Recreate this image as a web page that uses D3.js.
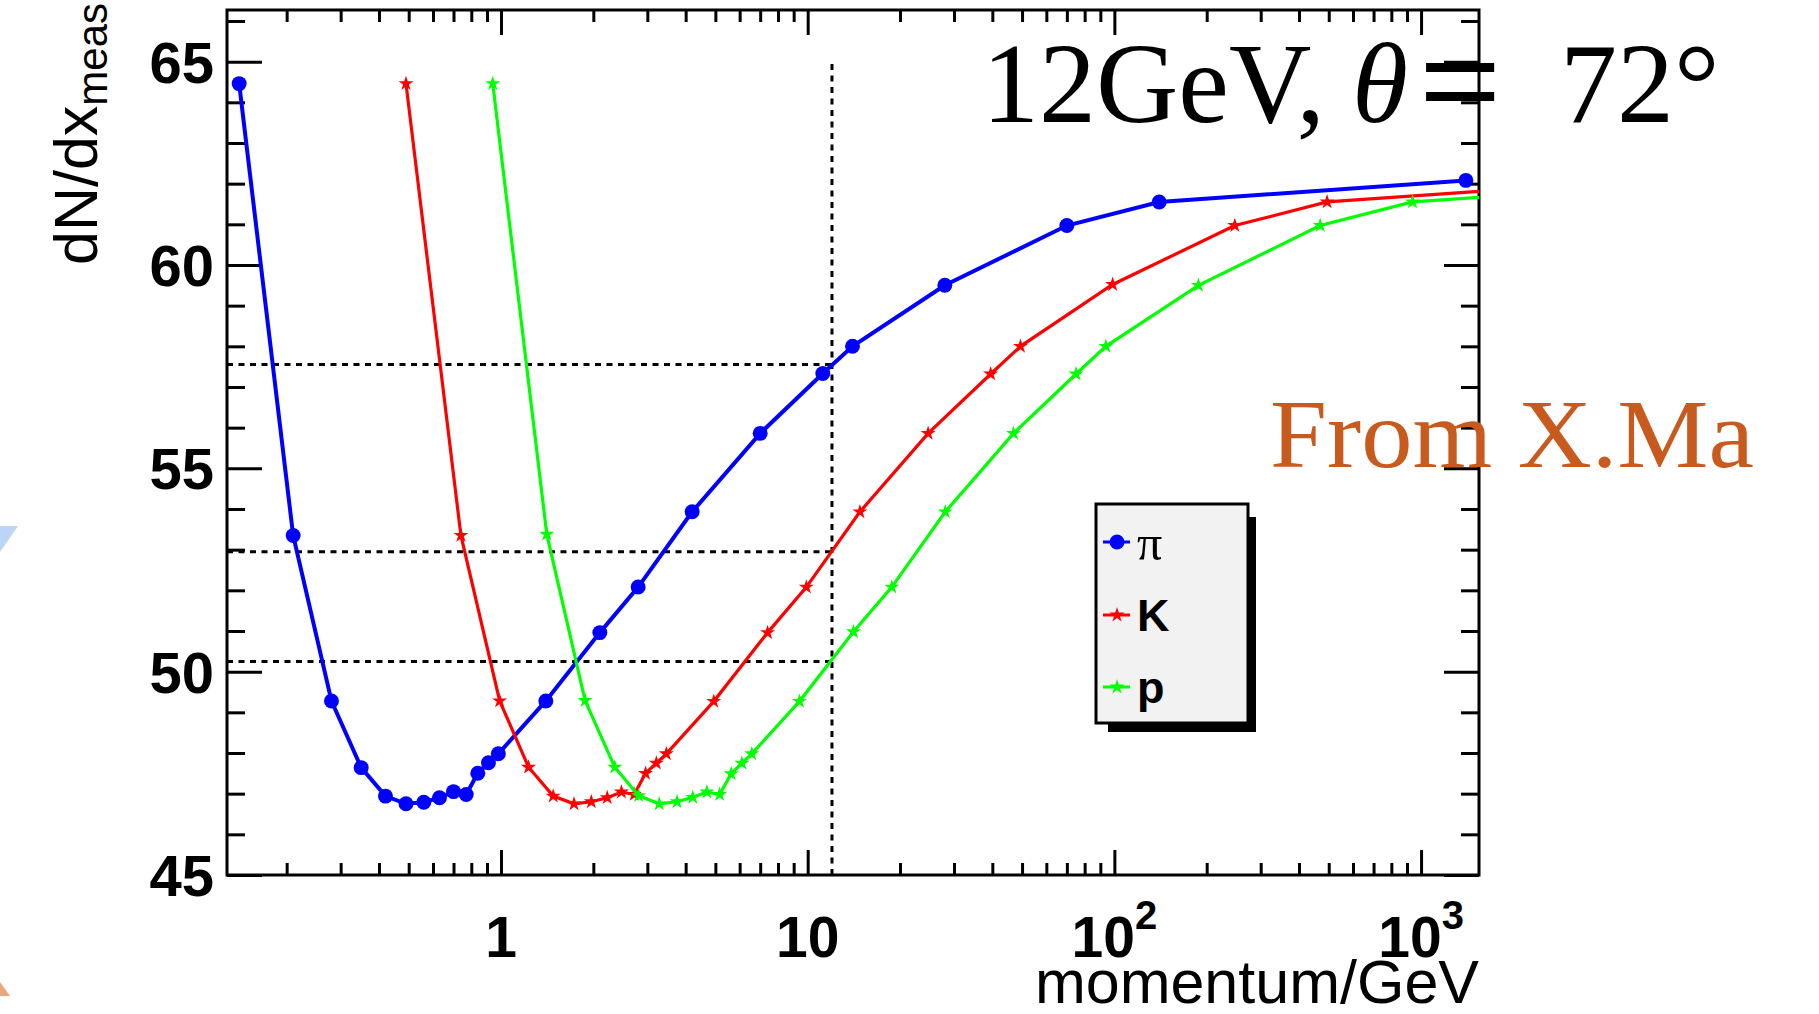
<!DOCTYPE html>
<html>
<head>
<meta charset="utf-8">
<script src="https://cdnjs.cloudflare.com/ajax/libs/d3/7.8.5/d3.min.js"></script>
<style>
  body { margin: 0; background: #fff; }
  svg { display: block; }
</style>
</head>
<body>
<svg id="chart" width="1819" height="1014"></svg>
<script>
// momentum (GeV) and dN/dx
var pionP = [0.14, 0.21, 0.28, 0.35, 0.42, 0.49, 0.56, 0.63, 0.70, 0.77, 0.84, 0.91, 0.98,
             1.4, 2.1, 2.8, 4.2, 7.0, 11.2, 14.0, 28, 70, 140, 1400];
var pionY = [64.46, 53.35, 49.28, 47.64, 46.94, 46.75, 46.79, 46.90, 47.05, 46.98, 47.50, 47.76, 47.98,
             49.28, 50.96, 52.08, 53.93, 55.86, 57.33, 58.0, 59.50, 60.97, 61.55, 62.08];

var kaonP = [0.49, 0.74, 0.99, 1.23, 1.48, 1.73, 1.97, 2.22, 2.47, 2.72, 2.96, 3.21, 3.46,
             4.94, 7.4, 9.9, 14.8, 24.7, 39.5, 49.4, 98.7, 247, 494, 4940];
var kaonY = [64.46, 53.35, 49.28, 47.65, 46.94, 46.75, 46.80, 46.90, 47.04, 46.98, 47.50, 47.75, 47.98,
             49.27, 50.96, 52.08, 53.93, 55.86, 57.32, 58.0, 59.52, 60.97, 61.55, 62.08];

var protonP = [0.94, 1.41, 1.88, 2.35, 2.81, 3.28, 3.75, 4.22, 4.69, 5.16, 5.63, 6.10, 6.57,
               9.4, 14.1, 18.8, 28.1, 46.9, 75, 93.8, 188, 469, 938, 9380];
var protonY = [64.46, 53.38, 49.29, 47.65, 46.95, 46.75, 46.80, 46.91, 47.04, 46.98, 47.49, 47.75, 47.98,
               49.27, 50.98, 52.08, 53.93, 55.86, 57.32, 58.0, 59.50, 60.97, 61.55, 62.08];

var seriesNames = ["π", "K", "p"];
var seriesColors = ["#0000ff", "#ff0000", "#00ff00"];

var yMajor = [45, 50, 55, 60, 65];
var xMajor = [1, 10, 100, 1000];
var xLabels = ["1", "10", "10^2", "10^3"];

// dotted guide lines at 12 GeV
var refP = 12;
var refLevels = [57.55, 52.95, 50.25];
var refTop = 65;

var padL = 227, padR = 1479, padT = 10, padB = 875;

var svg = d3.select("#chart");

var x = d3.scaleLog().domain([0.1278, 1545]).range([padL, padR]);
var y = d3.scaleLinear().domain([45, 66.27]).range([padB, padT]);

var xMinor = x.ticks().filter(function(d) { return xMajor.indexOf(d) < 0; });
var yMinor = y.ticks(21).filter(function(d) { return yMajor.indexOf(d) < 0; });

// background slide remnants at the left edge
svg.append("path").attr("d", "M0,526L18,526L0,552Z").attr("fill", "#bcd5f5");
svg.append("path").attr("d", "M0,982L10,996L0,996Z").attr("fill", "#eaa57a");

svg.append("defs").append("clipPath").attr("id", "plotclip")
  .append("rect").attr("x", padL).attr("y", padT)
  .attr("width", padR - padL).attr("height", padB - padT);

function ticks(axis, tr, vals, len) {
  var g = svg.append("g").attr("transform", tr)
    .call(axis.tickValues(vals).tickSizeInner(-len).tickSizeOuter(0).tickFormat(""));
  g.select(".domain").remove();
  g.selectAll("line").attr("stroke", "#000").attr("stroke-width", 3);
}

ticks(d3.axisBottom(x), "translate(0," + padB + ")", xMinor, 12);
ticks(d3.axisBottom(x), "translate(0," + padB + ")", xMajor, 25);
ticks(d3.axisTop(x), "translate(0," + padT + ")", xMinor, 12);
ticks(d3.axisTop(x), "translate(0," + padT + ")", xMajor, 25);
ticks(d3.axisLeft(y), "translate(" + padL + ",0)", yMinor, 18);
ticks(d3.axisLeft(y), "translate(" + padL + ",0)", yMajor, 35);
ticks(d3.axisRight(y), "translate(" + padR + ",0)", yMinor, 18);
ticks(d3.axisRight(y), "translate(" + padR + ",0)", yMajor, 35);

svg.append("rect").attr("x", padL).attr("y", padT)
  .attr("width", padR - padL).attr("height", padB - padT)
  .attr("fill", "none").attr("stroke", "#000").attr("stroke-width", 3);

// tick labels
svg.append("g").selectAll("text").data(yMajor).enter().append("text")
  .attr("x", padL - 13).attr("y", function(d) { return y(d); }).attr("dy", "0.36em")
  .attr("text-anchor", "end")
  .style("font", "bold 58px 'Liberation Sans', Arial, sans-serif")
  .text(function(d) { return d; });

xLabels.forEach(function(lab, i) {
  var parts = lab.split("^");
  var t = svg.append("text").attr("x", x(xMajor[i])).attr("y", 957)
    .attr("text-anchor", "middle")
    .style("font", "bold 57px 'Liberation Sans', Arial, sans-serif");
  t.append("tspan").text(parts[0]);
  if (parts[1]) t.append("tspan").attr("dy", -28).style("font-size", "40px").text(parts[1]);
});

// axis titles
svg.append("text").attr("x", padR).attr("y", 1003).attr("text-anchor", "end")
  .style("font", "61px 'Liberation Sans', Arial, sans-serif")
  .text("momentum/GeV");

var yt = svg.append("text").attr("transform", "translate(97,265) rotate(-90)")
  .style("font", "61px 'Liberation Sans', Arial, sans-serif");
yt.append("tspan").text("dN/dx");
yt.append("tspan").attr("dy", 10).style("font-size", "42px").text("meas");

// dotted guides
var guides = svg.append("g").attr("stroke", "#000").attr("stroke-width", 3)
  .attr("stroke-dasharray", "6,5.5").attr("fill", "none");
guides.append("line").attr("x1", x(refP)).attr("x2", x(refP))
  .attr("y1", y(45)).attr("y2", y(refTop));
guides.selectAll(".h").data(refLevels).enter().append("line")
  .attr("x1", padL).attr("x2", x(refP))
  .attr("y1", function(d) { return y(d); }).attr("y2", function(d) { return y(d); });

// curves
var series = [
  { p: pionP, v: pionY },
  { p: kaonP, v: kaonY },
  { p: protonP, v: protonY }
];

var line = d3.line().x(function(d) { return x(d[0]); }).y(function(d) { return y(d[1]); });
var star = d3.symbol().type(d3.symbolStar).size(70);
var dot = d3.symbol().type(d3.symbolCircle).size(175);

series.forEach(function(s, i) {
  var pts = s.p.map(function(p, j) { return [p, s.v[j]]; });
  svg.append("path").datum(pts).attr("d", line)
    .attr("clip-path", "url(#plotclip)")
    .attr("fill", "none").attr("stroke", seriesColors[i])
    .attr("stroke-width", i === 0 ? 4 : 3.2);
  svg.append("g").selectAll("path")
    .data(pts.filter(function(d) { return d[0] <= x.domain()[1]; }))
    .enter().append("path")
    .attr("d", i === 0 ? dot : star)
    .attr("transform", function(d) { return "translate(" + x(d[0]) + "," + y(d[1]) + ")"; })
    .attr("fill", seriesColors[i]);
});

// legend
var lg = svg.append("g");
lg.append("rect").attr("x", 1108).attr("y", 517).attr("width", 148).attr("height", 215).attr("fill", "#000");
lg.append("rect").attr("x", 1096).attr("y", 504).attr("width", 152).attr("height", 219)
  .attr("fill", "#f2f2f2").attr("stroke", "#000").attr("stroke-width", 3);
var legY = [542, 615, 687];
seriesNames.forEach(function(n, i) {
  lg.append("line").attr("x1", 1103).attr("x2", 1130).attr("y1", legY[i]).attr("y2", legY[i])
    .attr("stroke", seriesColors[i]).attr("stroke-width", 3);
  lg.append("path").attr("d", i === 0 ? dot : star)
    .attr("transform", "translate(1117," + legY[i] + ")").attr("fill", seriesColors[i]);
  lg.append("text").attr("x", 1137).attr("y", legY[i]).attr("dy", "0.36em")
    .style("font", i === 0 ? "50px 'Liberation Serif', serif" : "bold 45px 'Liberation Sans', Arial, sans-serif")
    .text(n);
});

// annotations
var title = svg.append("text").attr("y", 122)
  .style("font", "114px 'Liberation Serif', 'Times New Roman', serif").attr("fill", "#000");
title.append("tspan").attr("x", 982).text("12GeV,");
title.append("tspan").attr("x", 1352).style("font-style", "italic").text("θ");
title.append("tspan").attr("x", 1420).attr("dy", 7).style("font-size", "142px")
  .attr("stroke", "#000").attr("stroke-width", 2).text("=");
title.append("tspan").attr("x", 1560).attr("dy", -7).text("72°");

svg.append("text").attr("x", 1270).attr("y", 467)
  .attr("textLength", 484).attr("lengthAdjust", "spacingAndGlyphs")
  .style("font", "98px 'Liberation Serif', 'Times New Roman', serif")
  .attr("fill", "#c85a1e")
  .text("From X.Ma");
</script>
</body>
</html>
